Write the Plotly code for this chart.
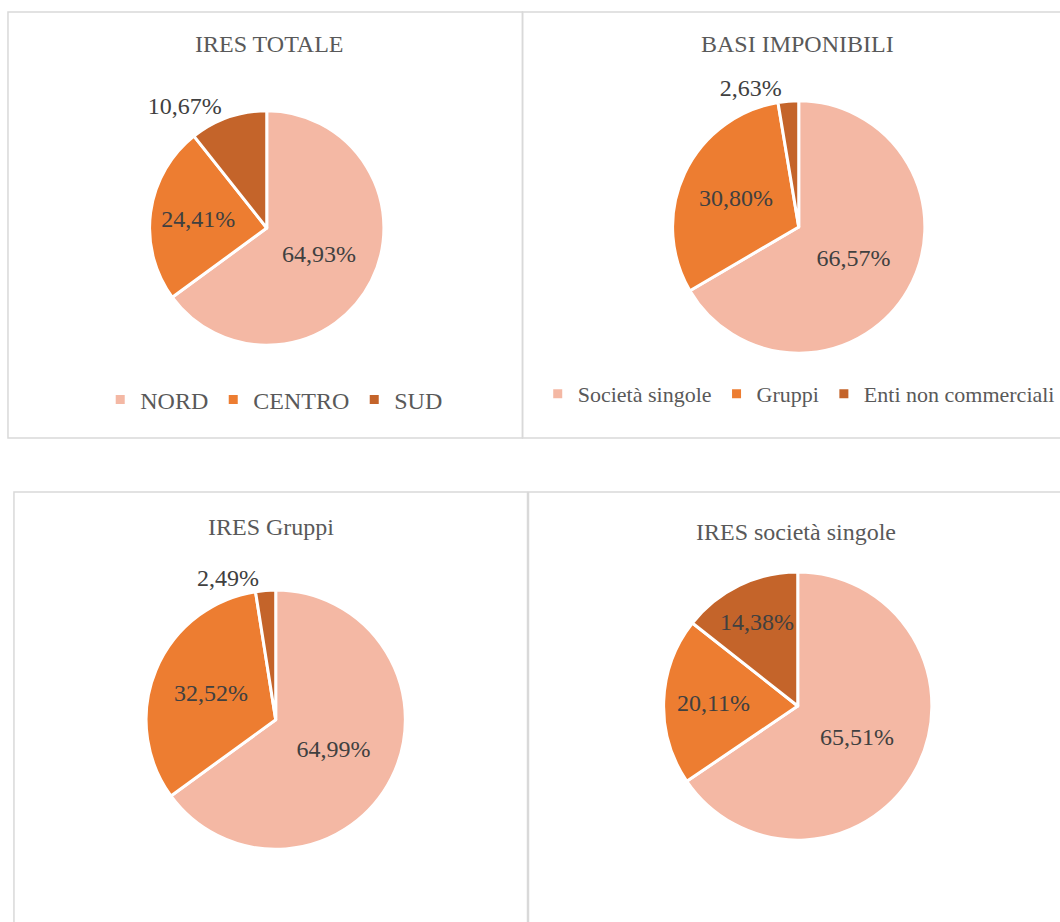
import plotly.graph_objects as go

W, H = 1060, 922

# ---- data ----
titles = ["IRES TOTALE", "BASI IMPONIBILI", "IRES Gruppi", "IRES società singole"]
labels_area = ["NORD", "CENTRO", "SUD"]
labels_basi = ["Società singole", "Gruppi", "Enti non commerciali"]
ires_totale = [64.93, 24.41, 10.67]
basi_imponibili = [66.57, 30.80, 2.63]
ires_gruppi = [64.99, 32.52, 2.49]
ires_singole = [65.51, 20.11, 14.38]

colors = ["#F4B8A4", "#ED7D31", "#C4642A"]
TXT = "#404040"
GREY = "#595959"
FONT = "Liberation Serif, Times New Roman, serif"


def px_x(v):
    return v / W


def px_y(v):
    return 1 - v / H


def dom(cx, cy, r):
    return dict(x=[px_x(cx - r), px_x(cx + r)], y=[px_y(cy + r), px_y(cy - r)])


pies = [
    (labels_area, ires_totale, dom(267.5, 228, 117.5), "legend", ["inside", "inside", "outside"]),
    (labels_basi, basi_imponibili, dom(801, 227, 126.5), "legend2", ["inside", "inside", "outside"]),
    (labels_area, ires_gruppi, dom(276.5, 719.7, 130), "legend3", ["inside", "inside", "outside"]),
    (labels_area, ires_singole, dom(800, 706, 134.5), "legend4", ["inside", "inside", "inside"]),
]

fig = go.Figure()
for labels, vals, d, lg, tpos in pies:
    fig.add_trace(go.Pie(
        labels=labels, values=vals, domain=d, legend=lg,
        sort=False, direction="clockwise", rotation=0,
        marker=dict(colors=colors, line=dict(color="white", width=3)),
        texttemplate="%{value:.2f}%", textposition=tpos,
        insidetextorientation="horizontal",
        textfont=dict(family=FONT, size=24, color=TXT),
        hoverinfo="skip",
    ))

# boxes around each chart
boxes = [(8, 12, 524, 438), (524, 12, 1070, 438), (14, 492, 529, 930), (530, 492, 1070, 930)]
shapes = []
for x0, y0, x1, y1 in boxes:
    shapes.append(dict(type="rect", xref="paper", yref="paper",
                       x0=px_x(x0), x1=px_x(x1), y0=px_y(y1), y1=px_y(y0),
                       line=dict(color="#D9D9D9", width=1.5), layer="below"))

title_pos = [(270, 44), (800, 44), (272, 527), (798, 532)]
annotations = []
for t, (x, y) in zip(titles, title_pos):
    annotations.append(dict(text=t, x=px_x(x), y=px_y(y), xref="paper", yref="paper",
                            xanchor="center", yanchor="middle", showarrow=False,
                            font=dict(family=FONT, size=24, color=GREY)))

legend_pos = {"legend": (275, 400, 24), "legend2": (801, 394, 22),
              "legend3": (280, 890, 24), "legend4": (808, 889, 24)}
leg_layout = {}
for k, (x, y, fs) in legend_pos.items():
    leg_layout[k] = dict(orientation="h", x=px_x(x), y=px_y(y), xanchor="center", yanchor="middle",
                         font=dict(family=FONT, size=fs, color=GREY), bgcolor="rgba(0,0,0,0)",
                         itemwidth=30)

fig.update_layout(
    width=W, height=H, margin=dict(l=0, r=0, t=0, b=0),
    paper_bgcolor="white", plot_bgcolor="white",
    separators=",.",
    shapes=shapes, annotations=annotations,
    uniformtext=dict(minsize=24, mode="show"),
    **leg_layout,
)

fig.write_html("out.html", config={"displayModeBar": False},
               post_script="document.body.style.margin='0';document.body.style.overflow='hidden';")
